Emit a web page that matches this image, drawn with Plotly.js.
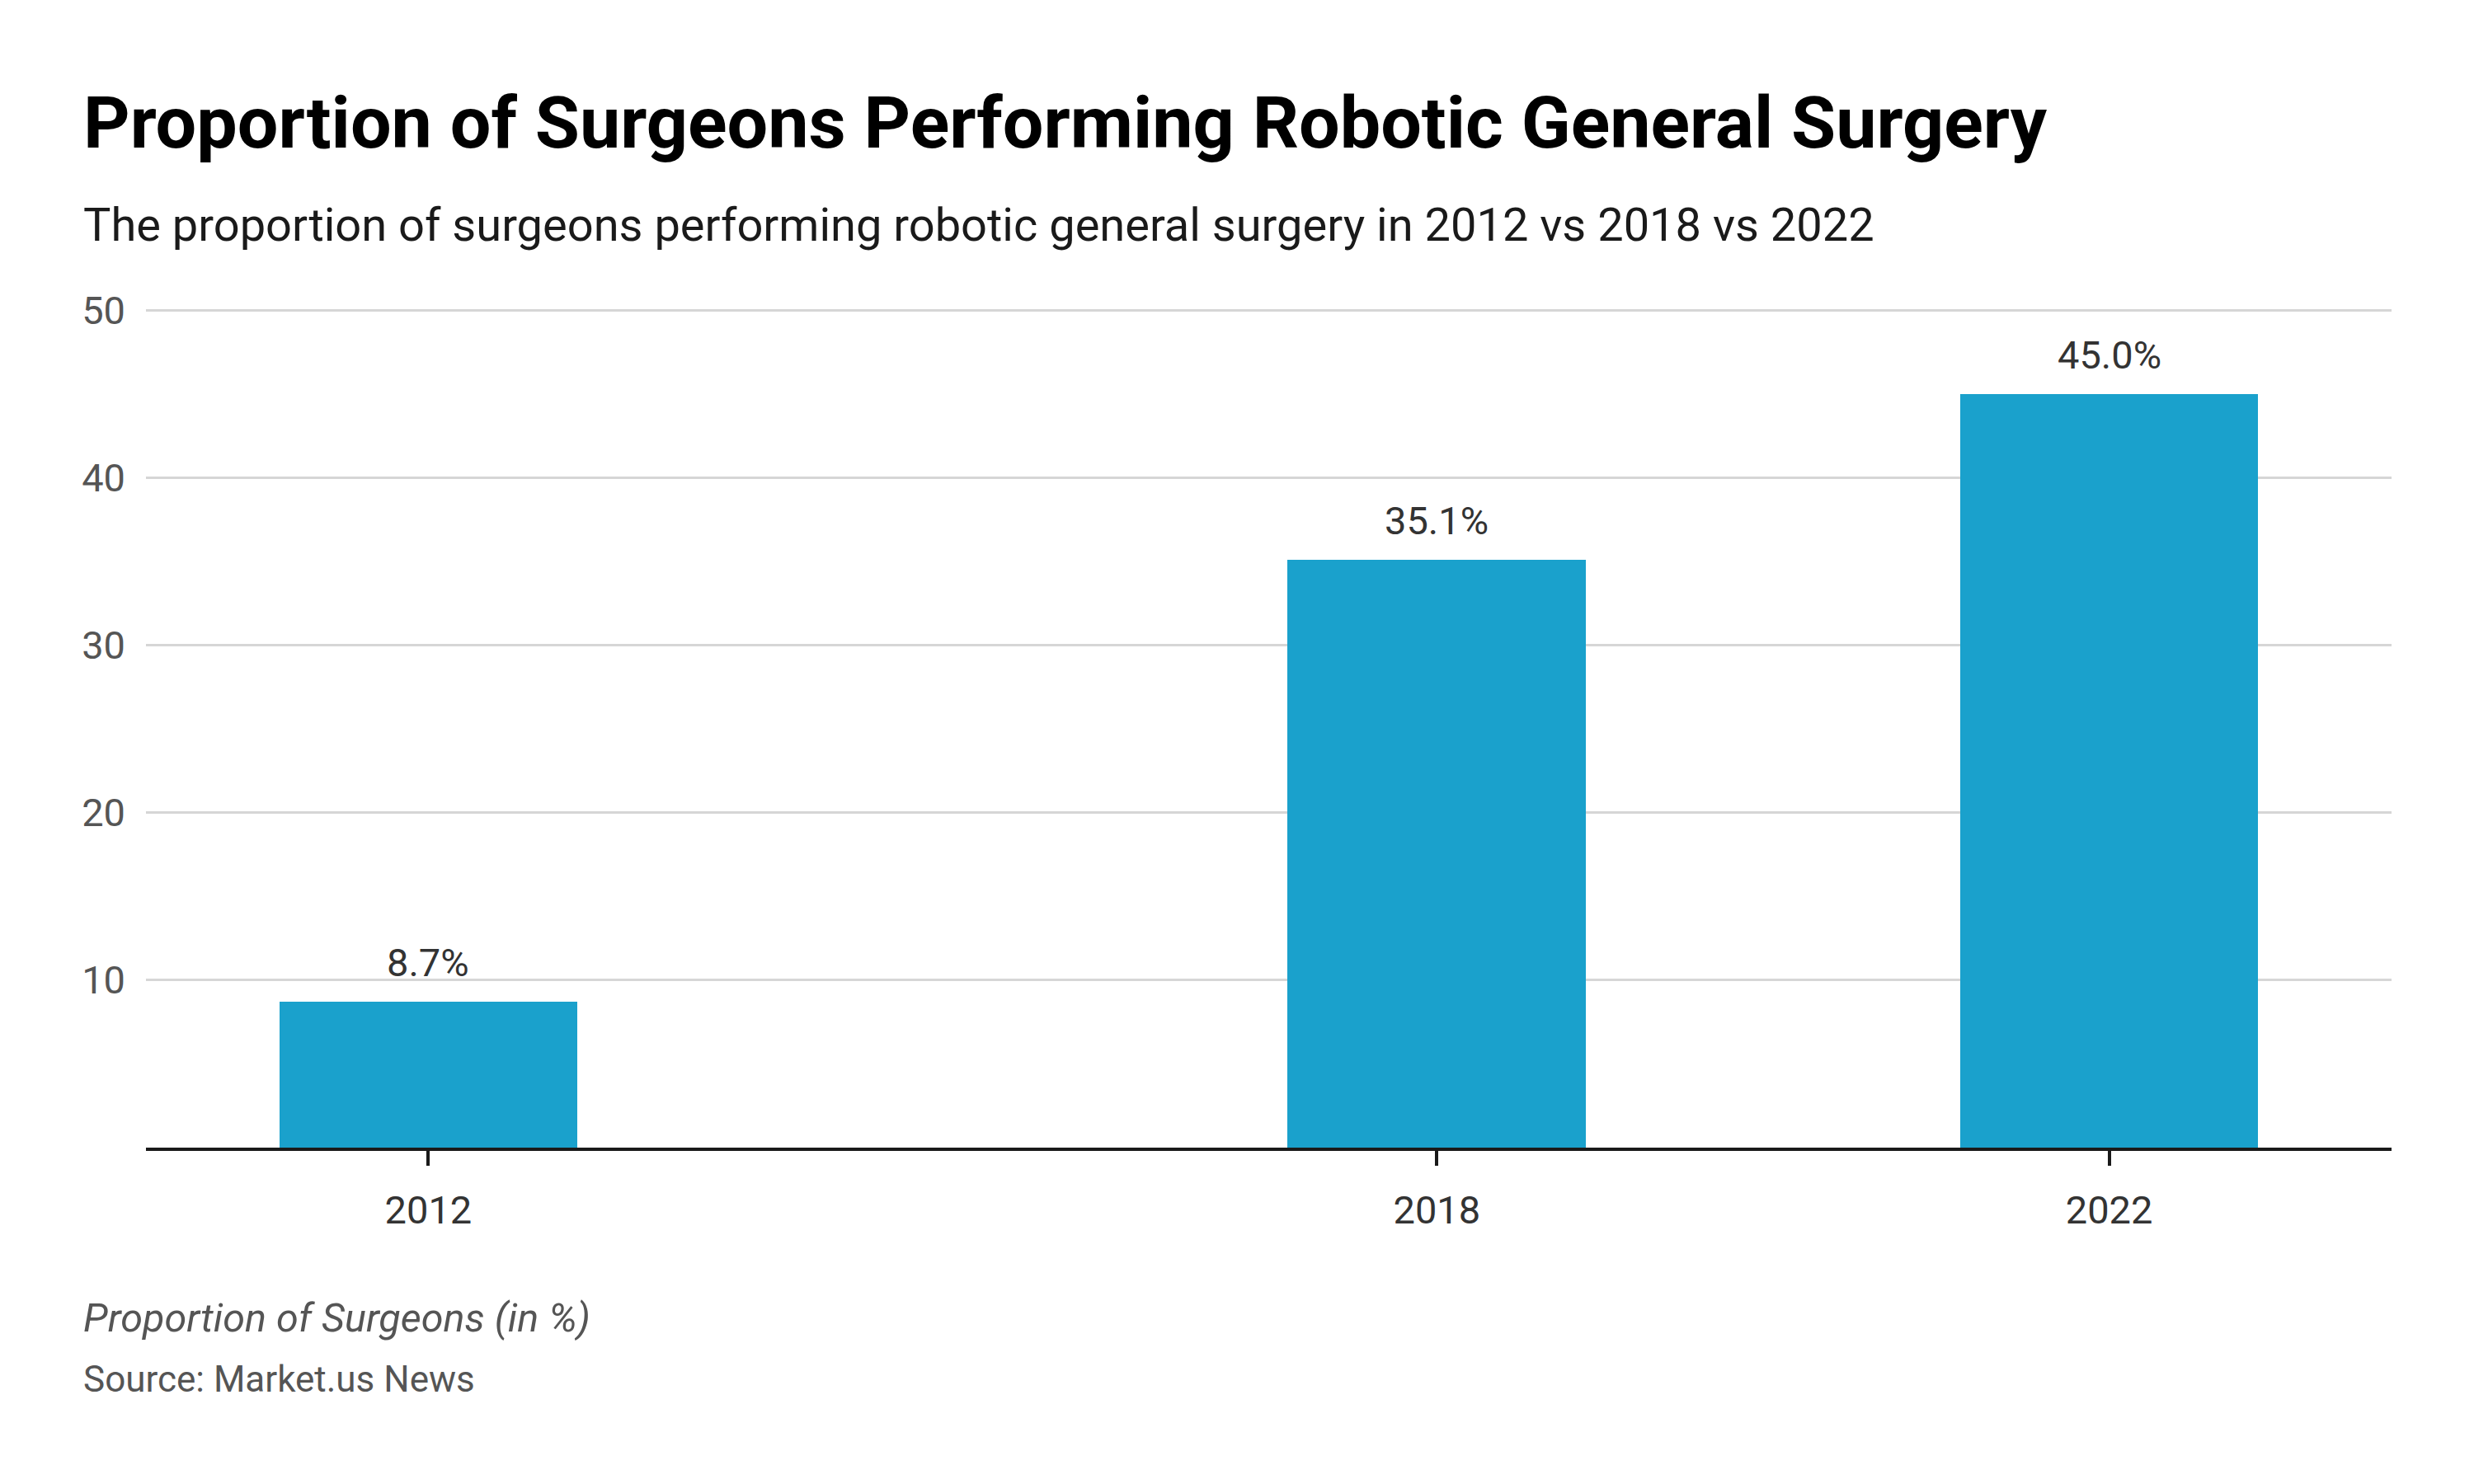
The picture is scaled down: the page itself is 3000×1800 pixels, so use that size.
<!DOCTYPE html>
<html>
<head>
<meta charset="utf-8">
<script src="https://cdn.plot.ly/plotly-3.0.1.min.js"></script>
<style>
  html, body { margin: 0; padding: 0; background: #ffffff; }
  #chart { width: 3000px; height: 1800px; }
</style>
</head>
<body>
<div id="chart"></div>
<script>
const years = [2012, 2018, 2022];
const proportions = [8.7, 35.1, 45.0];
const valueLabels = ["8.7%", "35.1%", "45.0%"];
const yTickValues = [10, 20, 30, 40, 50];
const xTickValues = [2012, 2018, 2022];
const xTickLabels = ["2012", "2018", "2022"];

const titleText = "Proportion of Surgeons Performing Robotic General Surgery";
const subtitleText = "The proportion of surgeons performing robotic general surgery in 2012 vs 2018 vs 2022";
const unitText = "Proportion of Surgeons (in %)";
const sourceText = "Source: Market.us News";

const FONT = "Roboto, 'Noto Sans', sans-serif";

const trace = {
  type: "bar",
  x: years,
  y: proportions,
  width: 1.775,
  marker: { color: "#1aa1cc", line: { width: 0 } },
  hoverinfo: "none",
  showlegend: false
};

const labelAnnotations = years.map((yr, i) => ({
  x: yr, y: proportions[i], xref: "x", yref: "y",
  text: valueLabels[i], showarrow: false,
  xanchor: "center", yanchor: "bottom", yshift: 18,
  font: { family: FONT, size: 47, color: "#333333" }
}));

const layout = {
  width: 3000, height: 1800,
  paper_bgcolor: "#ffffff", plot_bgcolor: "#ffffff",
  margin: { l: 177, r: 100, t: 372, b: 408, pad: 0 },
  font: { family: FONT },
  bargap: 0,
  xaxis: {
    type: "linear",
    range: [2010.32, 2023.68],
    tickvals: xTickValues,
    ticktext: xTickLabels,
    ticks: "outside", ticklen: 18, tickwidth: 4, tickcolor: "#1a1a1a",
    showline: true, linecolor: "#1a1a1a", linewidth: 4,
    showgrid: false, zeroline: false,
    tickfont: { family: FONT, size: 47, color: "#333333" },
    ticklabelstandoff: 14,
    fixedrange: true
  },
  yaxis: {
    range: [0, 50.2],
    tickvals: yTickValues,
    ticks: "",
    showline: false, zeroline: false,
    showgrid: true, gridcolor: "#d6d6d6", gridwidth: 3,
    tickfont: { family: FONT, size: 47, color: "#555555" },
    ticklabelstandoff: 24,
    fixedrange: true
  },
  annotations: [
    { xref: "paper", yref: "paper", x: -0.0285, y: 1.2189, xanchor: "left", yanchor: "middle",
      text: "<b>" + titleText + "</b>", showarrow: false,
      font: { family: FONT, size: 88, color: "#000000" } },
    { xref: "paper", yref: "paper", x: -0.0285, y: 1.0975, xanchor: "left", yanchor: "middle",
      text: subtitleText, showarrow: false,
      font: { family: FONT, size: 56, color: "#1a1a1a" } },
    { xref: "paper", yref: "paper", x: -0.0285, y: -0.2029, xanchor: "left", yanchor: "middle",
      text: "<i>" + unitText + "</i>", showarrow: false,
      font: { family: FONT, size: 48.5, color: "#555555" } },
    { xref: "paper", yref: "paper", x: -0.0285, y: -0.2755, xanchor: "left", yanchor: "middle",
      text: sourceText, showarrow: false,
      font: { family: FONT, size: 44, color: "#555555" } }
  ].concat(labelAnnotations)
};

Plotly.newPlot("chart", [trace], layout, { staticPlot: true, displayModeBar: false });
</script>
</body>
</html>
